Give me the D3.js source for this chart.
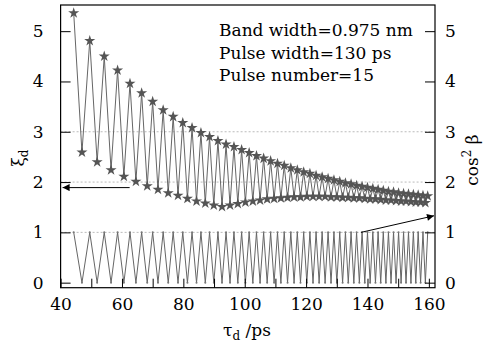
<!DOCTYPE html>
<html>
<head>
<meta charset="utf-8">
<script src="https://cdn.jsdelivr.net/npm/d3@7.9.0/dist/d3.min.js"></script>
<style>
  html, body { margin: 0; padding: 0; background: #fff; }
  svg { display: block; font-family: "DejaVu Serif", serif; }
</style>
</head>
<body>
<div id="chart"></div>
<script>
// peaks of the oscillation (star on upper envelope, cos^2 beta = 1)
const tauPeak = [44.27, 49.50, 54.22, 58.57, 62.61, 66.41, 70.00, 73.42, 76.68, 79.81,
  82.83, 85.73, 88.54, 91.27, 93.91, 96.49, 98.99, 101.44, 103.83, 106.16,
  108.44, 110.68, 112.87, 115.02, 117.13, 119.21, 121.24, 123.25, 125.22, 127.16,
  129.07, 130.96, 132.82, 134.65, 136.45, 138.24, 140.00, 141.74, 143.46, 145.15,
  146.83, 148.49, 150.13, 151.76, 153.36, 154.95, 156.52, 158.08, 159.62];
const xiPeak = [5.36, 4.81, 4.50, 4.22, 3.96, 3.77, 3.60, 3.43, 3.30, 3.18,
  3.08, 2.98, 2.90, 2.82, 2.75, 2.70, 2.64, 2.58, 2.52, 2.47,
  2.42, 2.37, 2.33, 2.28, 2.24, 2.20, 2.17, 2.13, 2.10, 2.07,
  2.04, 2.01, 1.98, 1.96, 1.93, 1.91, 1.89, 1.87, 1.85, 1.83,
  1.81, 1.80, 1.78, 1.77, 1.76, 1.75, 1.74, 1.73, 1.72];
// valleys (star on lower envelope, cos^2 beta = 0)
const tauValley = [46.96, 51.91, 56.44, 60.62, 64.54, 68.23, 71.73, 75.07, 78.26, 81.33,
  84.29, 87.15, 89.92, 92.60, 95.21, 97.75, 100.22, 102.64, 105.00, 107.31,
  109.57, 111.78, 113.95, 116.08, 118.17, 120.23, 122.25, 124.24, 126.19, 128.12,
  130.02, 131.89, 133.74, 135.55, 137.35, 139.12, 140.87, 142.60, 144.31, 146.00,
  147.67, 149.31, 150.95, 152.56, 154.16, 155.74, 157.31, 158.86];
const xiValley = [2.59, 2.40, 2.24, 2.11, 2.01, 1.92, 1.85, 1.78, 1.73, 1.67,
  1.62, 1.58, 1.54, 1.51, 1.54, 1.57, 1.60, 1.62, 1.64, 1.66,
  1.67, 1.68, 1.69, 1.70, 1.70, 1.71, 1.71, 1.71, 1.71, 1.70,
  1.70, 1.69, 1.69, 1.68, 1.68, 1.67, 1.66, 1.66, 1.65, 1.64,
  1.64, 1.63, 1.62, 1.62, 1.61, 1.60, 1.60, 1.59];
const cosPeak = 1, cosValley = 0;

const xTicks = [40, 50, 60, 70, 80, 90, 100, 110, 120, 130, 140, 150, 160];
const xLabels = [40, 60, 80, 100, 120, 140, 160];
const yTicks = [0, 1, 2, 3, 4, 5];
const gridLevels = [1, 2, 3];
const notes = ['Band width=0.975 nm', 'Pulse width=130 ps', 'Pulse number=15'];

// interleave peaks and valleys
const xi = [], cos2 = [];
tauPeak.forEach((t, i) => {
  xi.push({ t, v: xiPeak[i] });
  cos2.push({ t, v: cosPeak });
  if (i < tauValley.length) {
    xi.push({ t: tauValley[i], v: xiValley[i] });
    cos2.push({ t: tauValley[i], v: cosValley });
  }
});

const width = 490, height = 344;
const svg = d3.select('#chart').append('svg')
  .attr('width', width).attr('height', height);

const x = d3.scaleLinear().domain([40, 162]).range([60.6, 435]);
const y = d3.scaleLinear().domain([-0.1, 5.52]).range([287.7, 5]);
const [x0, x1] = x.range();
const [yb, yt] = y.range();

// dashed gridlines
svg.append('g').selectAll('line').data(gridLevels).join('line')
  .attr('x1', x0).attr('x2', x1)
  .attr('y1', d => y(d)).attr('y2', d => y(d))
  .attr('stroke', '#bbb').attr('stroke-width', 1).attr('stroke-dasharray', '2,2');

const line = d3.line().x(d => x(d.t)).y(d => y(d.v));

// cos^2 beta zigzag
svg.append('path').datum(cos2).attr('d', line)
  .attr('fill', 'none').attr('stroke', '#666').attr('stroke-width', 1);
svg.append('g').selectAll('circle').data(cos2).join('circle')
  .attr('cx', d => x(d.t)).attr('cy', d => y(d.v)).attr('r', 1)
  .attr('fill', '#777');

// xi_d zigzag with stars
svg.append('path').datum(xi).attr('d', line)
  .attr('fill', 'none').attr('stroke', '#666').attr('stroke-width', 1);
const star = d3.symbol().type(d3.symbolStar).size(38);
svg.append('g').selectAll('path').data(xi).join('path')
  .attr('d', star)
  .attr('transform', d => `translate(${x(d.t)},${y(d.v)})`)
  .attr('fill', '#555');

// axes, ticks pointing inwards
const fs = 17;
const gx = svg.append('g').attr('transform', `translate(0,${yb})`)
  .call(d3.axisBottom(x).tickValues(xTicks).tickSize(-9).tickPadding(10)
    .tickFormat(d => xLabels.includes(d) ? d : ''));
const gl = svg.append('g').attr('transform', `translate(${x0},0)`)
  .call(d3.axisLeft(y).tickValues(yTicks).tickSize(-10).tickPadding(17).tickFormat(d3.format('d')));
const gr = svg.append('g').attr('transform', `translate(${x1},0)`)
  .call(d3.axisRight(y).tickValues(yTicks).tickSize(-10).tickPadding(10).tickFormat(d3.format('d')));
[gx, gl, gr].forEach(g => {
  g.select('.domain').remove();
  g.selectAll('line').attr('stroke', '#000');
  g.selectAll('text').attr('font-size', fs).attr('font-family', '"DejaVu Serif", serif')
    .attr('fill', '#000');
});

// frame
svg.append('rect').attr('x', x0).attr('y', yt)
  .attr('width', x1 - x0).attr('height', yb - yt)
  .attr('fill', 'none').attr('stroke', '#000').attr('stroke-width', 1.2);

// annotation text
svg.append('g').selectAll('text').data(notes).join('text')
  .attr('x', 219).attr('y', (d, i) => 36 + i * 22.5)
  .attr('font-size', fs).text(d => d);

// arrows
const defs = svg.append('defs');
defs.append('marker').attr('id', 'ah').attr('viewBox', '0 0 10 10')
  .attr('refX', 10).attr('refY', 5).attr('markerWidth', 10).attr('markerHeight', 7)
  .attr('markerUnits', 'userSpaceOnUse').attr('orient', 'auto')
  .append('path').attr('d', 'M0,0L10,5L0,10z').attr('fill', '#000');
svg.append('line')
  .attr('x1', x(62.5)).attr('y1', y(1.89)).attr('x2', x0 + 2).attr('y2', y(1.89))
  .attr('stroke', '#000').attr('stroke-width', 1).attr('marker-end', 'url(#ah)');
svg.append('line')
  .attr('x1', x(137.9)).attr('y1', y(1)).attr('x2', x1 - 1).attr('y2', y(1.33))
  .attr('stroke', '#000').attr('stroke-width', 1).attr('marker-end', 'url(#ah)');

// axis titles
svg.append('text').attr('transform', 'translate(24,158) rotate(-90)')
  .attr('text-anchor', 'middle').attr('font-size', fs)
  .html('ξ<tspan font-size="12" dy="4">d</tspan>');
svg.append('text').attr('transform', 'translate(478,160) rotate(-90)')
  .attr('text-anchor', 'middle').attr('font-size', fs)
  .html('cos<tspan font-size="12" dy="-7">2</tspan><tspan dy="7"> β</tspan>');
svg.append('text').attr('x', 247).attr('y', 336)
  .attr('text-anchor', 'middle').attr('font-size', fs)
  .html('τ<tspan font-size="12" dy="4">d</tspan><tspan dy="-4"> /ps</tspan>');
</script>
</body>
</html>
